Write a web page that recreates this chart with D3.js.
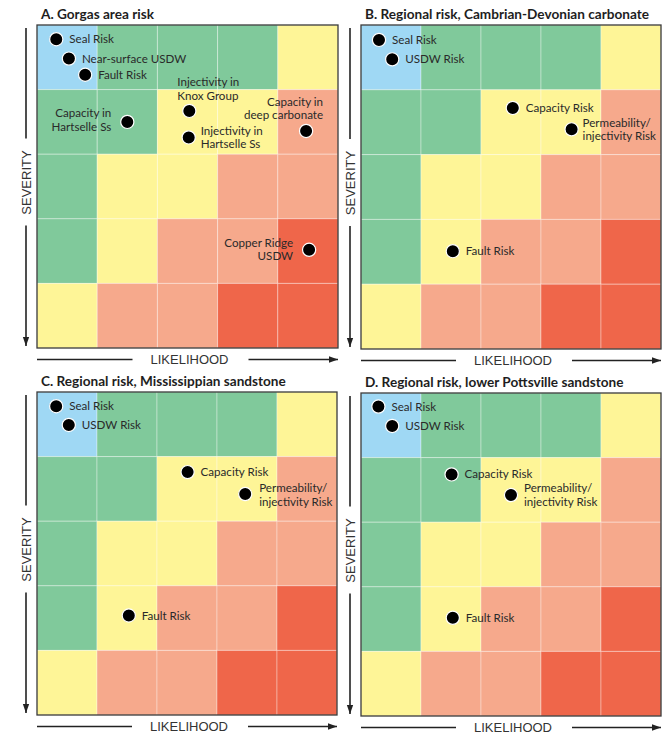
<!DOCTYPE html>
<html>
<head>
<meta charset="utf-8">
<script src="https://cdn.jsdelivr.net/npm/d3@7"></script>
<style>
  html, body { margin: 0; padding: 0; background: #fff; }
  svg { display: block; }
</style>
</head>
<body>
<svg id="chart" width="667" height="734"></svg>
<script>
// ---------------- DATA ----------------
const panelTitles = [
  "A. Gorgas area risk",
  "B. Regional risk, Cambrian-Devonian carbonate",
  "C. Regional risk, Mississippian sandstone",
  "D. Regional risk, lower Pottsville sandstone"
];
const xAxisLabel = "LIKELIHOOD";
const yAxisLabel = "SEVERITY";
const likelihoodLevels = [0, 1, 2, 3, 4];
const severityLevels = [0, 1, 2, 3, 4];
// risk class per cell (row = severity, top to bottom; column = likelihood, left to right)
const riskMatrix = [
  ["B", "G", "G", "G", "Y"],
  ["G", "G", "Y", "Y", "S"],
  ["G", "Y", "Y", "S", "S"],
  ["G", "Y", "S", "S", "R"],
  ["Y", "S", "S", "R", "R"]
];
const riskColors = { B: "#9fd8f4", G: "#80c99b", Y: "#fef597", S: "#f6a98c", R: "#ef664a" };

// points: label lines, likelihood (0-5 continuous), severity (0-5 continuous, down = more severe)
const pointsA = [
  { label: ["Seal Risk"], likelihood: 0.32, severity: 0.22 },
  { label: ["Near-surface USDW"], likelihood: 0.53, severity: 0.52 },
  { label: ["Fault Risk"], likelihood: 0.80, severity: 0.77 },
  { label: ["Capacity in", "Hartselle Ss"], likelihood: 1.50, severity: 1.50 },
  { label: ["Injectivity in", "Knox Group"], likelihood: 2.53, severity: 1.33 },
  { label: ["Injectivity in", "Hartselle Ss"], likelihood: 2.52, severity: 1.74 },
  { label: ["Capacity in", "deep carbonate"], likelihood: 4.47, severity: 1.64 },
  { label: ["Copper Ridge", "USDW"], likelihood: 4.52, severity: 3.48 }
];
const pointsB = [
  { label: ["Seal Risk"], likelihood: 0.30, severity: 0.23 },
  { label: ["USDW Risk"], likelihood: 0.52, severity: 0.53 },
  { label: ["Capacity Risk"], likelihood: 2.53, severity: 1.28 },
  { label: ["Permeability/", "injectivity Risk"], likelihood: 3.51, severity: 1.61 },
  { label: ["Fault Risk"], likelihood: 1.53, severity: 3.49 }
];
const pointsC = [
  { label: ["Seal Risk"], likelihood: 0.32, severity: 0.22 },
  { label: ["USDW Risk"], likelihood: 0.53, severity: 0.51 },
  { label: ["Capacity Risk"], likelihood: 2.51, severity: 1.24 },
  { label: ["Permeability/", "injectivity Risk"], likelihood: 3.47, severity: 1.58 },
  { label: ["Fault Risk"], likelihood: 1.53, severity: 3.46 }
];
const pointsD = [
  { label: ["Seal Risk"], likelihood: 0.29, severity: 0.21 },
  { label: ["USDW Risk"], likelihood: 0.52, severity: 0.51 },
  { label: ["Capacity Risk"], likelihood: 1.51, severity: 1.26 },
  { label: ["Permeability/", "injectivity Risk"], likelihood: 2.50, severity: 1.58 },
  { label: ["Fault Risk"], likelihood: 1.53, severity: 3.48 }
];
const panelPoints = [pointsA, pointsB, pointsC, pointsD];

// ---------------- LAYOUT ----------------
const panelBoxes = [
  { left: 37, top: 25, right: 338, bottom: 348 },
  { left: 361, top: 25, right: 661, bottom: 349 },
  { left: 37, top: 392, right: 337, bottom: 715 },
  { left: 361, top: 393, right: 661, bottom: 716 }
];
// label placement per panel/point: anchor, dx, first baseline dy
const labelPlacement = [
  [
    { anchor: "start", dx: 13, dy: 4 },
    { anchor: "start", dx: 13, dy: 4 },
    { anchor: "start", dx: 13, dy: 4 },
    { anchor: "end", dx: -16, dy: -4.5 },
    { anchor: "start", dx: -12, dy: -24.5 },
    { anchor: "start", dx: 12, dy: -2.5 },
    { anchor: "end", dx: 17, dy: -25 },
    { anchor: "end", dx: -16, dy: -3 }
  ],
  [
    { anchor: "start", dx: 13, dy: 4 },
    { anchor: "start", dx: 13, dy: 4 },
    { anchor: "start", dx: 13, dy: 4 },
    { anchor: "start", dx: 11, dy: -2.5 },
    { anchor: "start", dx: 13, dy: 4 }
  ],
  [
    { anchor: "start", dx: 13, dy: 4 },
    { anchor: "start", dx: 13, dy: 4 },
    { anchor: "start", dx: 13, dy: 4 },
    { anchor: "start", dx: 14, dy: -2 },
    { anchor: "start", dx: 13, dy: 4 }
  ],
  [
    { anchor: "start", dx: 13, dy: 4 },
    { anchor: "start", dx: 13, dy: 4 },
    { anchor: "start", dx: 13, dy: 4 },
    { anchor: "start", dx: 13, dy: -3 },
    { anchor: "start", dx: 13, dy: 4 }
  ]
];
const lineHeight = 13.5;

const svg = d3.select("#chart");

// arrow marker
svg.append("defs").append("marker")
  .attr("id", "arrow")
  .attr("viewBox", "0 0 10 10")
  .attr("refX", 10).attr("refY", 5)
  .attr("markerWidth", 9).attr("markerHeight", 9)
  .attr("markerUnits", "userSpaceOnUse")
  .attr("orient", "auto")
  .append("path").attr("d", "M0,1.5 L10,5 L0,8.5 Z").attr("fill", "#222");

panelBoxes.forEach((box, pi) => {
  const g = svg.append("g");
  const x = d3.scaleLinear().domain([0, 5]).range([box.left, box.right]);
  const y = d3.scaleLinear().domain([0, 5]).range([box.top, box.bottom]);

  // cells
  const cells = [];
  severityLevels.forEach(r => likelihoodLevels.forEach(c => cells.push({ r, c, k: riskMatrix[r][c] })));
  g.selectAll("rect.cell").data(cells).enter().append("rect")
    .attr("class", "cell")
    .attr("x", d => x(d.c)).attr("y", d => y(d.r))
    .attr("width", d => x(d.c + 1) - x(d.c))
    .attr("height", d => y(d.r + 1) - y(d.r))
    .attr("fill", d => riskColors[d.k])
    .attr("stroke", "rgba(255,255,255,0.35)")
    .attr("stroke-width", 1);

  // border
  g.append("rect")
    .attr("x", x(0)).attr("y", y(0))
    .attr("width", x(5) - x(0)).attr("height", y(5) - y(0))
    .attr("fill", "none").attr("stroke", "#3a3a3a").attr("stroke-width", 1.3);

  // title
  g.append("text")
    .attr("x", box.left + 4).attr("y", box.top - 6)
    .attr("font-family", "Lato, 'Liberation Sans', sans-serif")
    .attr("font-weight", 700).attr("font-size", 13.6)
    .attr("fill", "#1e1e1e")
    .text(panelTitles[pi]);

  // x axis label with arrow lines
  const xm = (box.left + box.right) / 2 + 2;
  const ya = box.bottom + 11.5;
  g.append("line").attr("x1", box.left).attr("x2", xm - 57).attr("y1", ya).attr("y2", ya)
    .attr("stroke", "#222").attr("stroke-width", 1.6);
  g.append("line").attr("x1", xm + 59).attr("x2", box.right).attr("y1", ya).attr("y2", ya)
    .attr("stroke", "#222").attr("stroke-width", 1.6).attr("marker-end", "url(#arrow)");
  g.append("text").attr("x", xm).attr("y", ya + 4.6)
    .attr("text-anchor", "middle")
    .attr("font-family", "'Liberation Sans', Arial, sans-serif").attr("font-size", 13)
    .attr("fill", "#333")
    .text(xAxisLabel);

  // y axis label with arrow lines
  const xa = box.left - 11;
  const ym = (box.top + box.bottom) / 2 - 4;
  g.append("line").attr("x1", xa).attr("x2", xa).attr("y1", box.top + 3).attr("y2", ym - 44)
    .attr("stroke", "#222").attr("stroke-width", 1.6);
  g.append("line").attr("x1", xa).attr("x2", xa).attr("y1", ym + 43).attr("y2", box.bottom - 2)
    .attr("stroke", "#222").attr("stroke-width", 1.6).attr("marker-end", "url(#arrow)");
  g.append("text")
    .attr("transform", `translate(${xa + 4.6},${ym}) rotate(-90)`)
    .attr("text-anchor", "middle")
    .attr("font-family", "'Liberation Sans', Arial, sans-serif").attr("font-size", 13)
    .attr("fill", "#333")
    .text(yAxisLabel);

  // points
  const pts = panelPoints[pi];
  const place = labelPlacement[pi];
  const pg = g.selectAll("g.pt").data(pts).enter().append("g").attr("class", "pt");
  pg.append("circle")
    .attr("cx", d => x(d.likelihood)).attr("cy", d => y(d.severity))
    .attr("r", 6.6)
    .attr("fill", "#000").attr("stroke", "#fff").attr("stroke-width", 1.2);
  pg.each(function (d, i) {
    const p = place[i];
    const t = d3.select(this).append("text")
      .attr("font-family", "Lato, 'Noto Sans', sans-serif").attr("font-size", 11.6)
      .attr("fill", "#2a2a2a")
      .attr("text-anchor", p.anchor);
    d.label.forEach((line, li) => {
      t.append("tspan")
        .attr("x", x(d.likelihood) + p.dx)
        .attr("y", y(d.severity) + p.dy + li * lineHeight)
        .text(line);
    });
  });
});
</script>
</body>
</html>
